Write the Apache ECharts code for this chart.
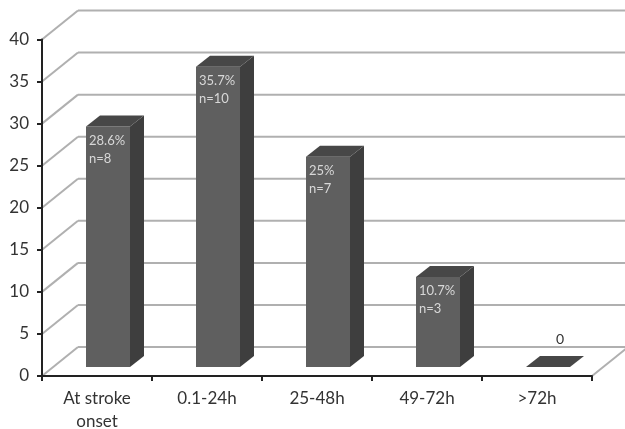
<!DOCTYPE html>
<html><head><meta charset="utf-8">
<style>html,body{margin:0;padding:0;background:#fff}#c{width:625px;height:429px}</style>
<script src="https://cdn.jsdelivr.net/npm/echarts@6/dist/echarts.min.js"></script>
</head><body><div id="c"></div>
<script>
const categories = ['At stroke\nonset', '0.1-24h', '25-48h', '49-72h', '>72h'];
const values = [28.6, 35.7, 25, 10.7, 0];
const percentLabels = ['28.6%', '35.7%', '25%', '10.7%', ''];
const countLabels = ['n=8', 'n=10', 'n=7', 'n=3', ''];
const zeroLabels = ['', '', '', '', '0'];
const yTicks = [0, 5, 10, 15, 20, 25, 30, 35, 40];

const FONT = 'Lato, "Open Sans", sans-serif';
const chart = echarts.init(document.getElementById('c'), null, {renderer: 'canvas'});
const DEPTH_X = 36, DEPTH_Y = 29;
const GRID_C = '#b0b0b0';

function renderWall(params, api) {
  const band = api.size([1, 0])[0];
  const p = api.coord([0, api.value(0)]);
  const x0 = p[0] - band / 2, y = p[1];
  const x2 = x0 + DEPTH_X + band * categories.length, by = y - DEPTH_Y;
  const children = [
    {type: 'line', shape: {x1: x0, y1: y, x2: x0 + DEPTH_X, y2: by}, style: {stroke: GRID_C, lineWidth: 2}},
    {type: 'line', shape: {x1: x0 + DEPTH_X, y1: by, x2: x2, y2: by}, style: {stroke: GRID_C, lineWidth: 2}}
  ];
  if (api.value(0) === 0) {
    const xr = x0 + band * categories.length;
    children.push({type: 'line', shape: {x1: xr, y1: y, x2: x2, y2: by}, style: {stroke: GRID_C, lineWidth: 2}});
  }
  return {type: 'group', children};
}

function renderBar(params, api) {
  const i = api.value(0), v = api.value(1);
  const band = api.size([1, 0])[0];
  const top = api.coord([i, v]);
  const base = api.coord([i, 0]);
  const w = band * 0.4;
  const shiftX = 11, shiftY = 9, dx = 14, dy = 11;
  const l = base[0] - w / 2 + shiftX, r = l + w;
  const b = base[1] - shiftY, t = top[1] - shiftY;
  const children = [];
  if (v > 0) {
    children.push({type: 'rect', shape: {x: l, y: t, width: w, height: b - t}, style: {fill: '#5f5f5f'}});
    children.push({type: 'polygon', shape: {points: [[r, t], [r + dx, t - dy], [r + dx, b - dy], [r, b]]}, style: {fill: '#3e3e3e'}});
  }
  children.push({type: 'polygon', shape: {points: [[l, t], [l + dx, t - dy], [r + dx, t - dy], [r, t]]}, style: {fill: '#474747'}});
  if (percentLabels[i]) {
    children.push({type: 'text', style: {text: percentLabels[i], x: l + 3, y: t + 14, fill: '#d8d8d8', font: '13px ' + FONT, textVerticalAlign: 'middle'}});
    children.push({type: 'text', style: {text: countLabels[i], x: l + 3, y: t + 32, fill: '#d8d8d8', font: '13px ' + FONT, textVerticalAlign: 'middle'}});
  }
  if (zeroLabels[i]) {
    children.push({type: 'text', style: {text: zeroLabels[i], x: l + w / 2 + 12, y: t - 28, fill: '#333', font: '14px ' + FONT, textAlign: 'center', textVerticalAlign: 'middle'}});
  }
  return {type: 'group', children};
}

chart.setOption({
  animation: false,
  backgroundColor: '#fff',
  grid: {left: 42, right: 33, top: 39.5, bottom: 53, outerBoundsMode: 'none'},
  xAxis: {
    type: 'category', data: categories, z: 5,
    axisLine: {lineStyle: {color: '#222', width: 2}},
    axisTick: {show: true, length: 5, lineStyle: {color: '#222', width: 2}},
    axisLabel: {interval: 0, color: '#333', fontFamily: FONT, fontSize: 17, lineHeight: 23, margin: 11},
    splitLine: {show: false}
  },
  yAxis: {
    type: 'value', min: 0, max: 40, interval: 5, z: 5,
    axisLine: {show: true, lineStyle: {color: '#222', width: 2}},
    axisTick: {show: true, length: 5, lineStyle: {color: '#222', width: 2}},
    axisLabel: {color: '#333', fontFamily: FONT, fontSize: 17, margin: 13},
    splitLine: {show: false}
  },
  series: [
    {type: 'custom', coordinateSystem: 'cartesian2d', z: 1, renderItem: renderWall,
     encode: {y: 0}, data: yTicks.map(v => [v])},
    {type: 'custom', coordinateSystem: 'cartesian2d', z: 2, renderItem: renderBar,
     encode: {x: 0, y: 1}, data: values.map((v, i) => [i, v])}
  ]
});
</script></body></html>
